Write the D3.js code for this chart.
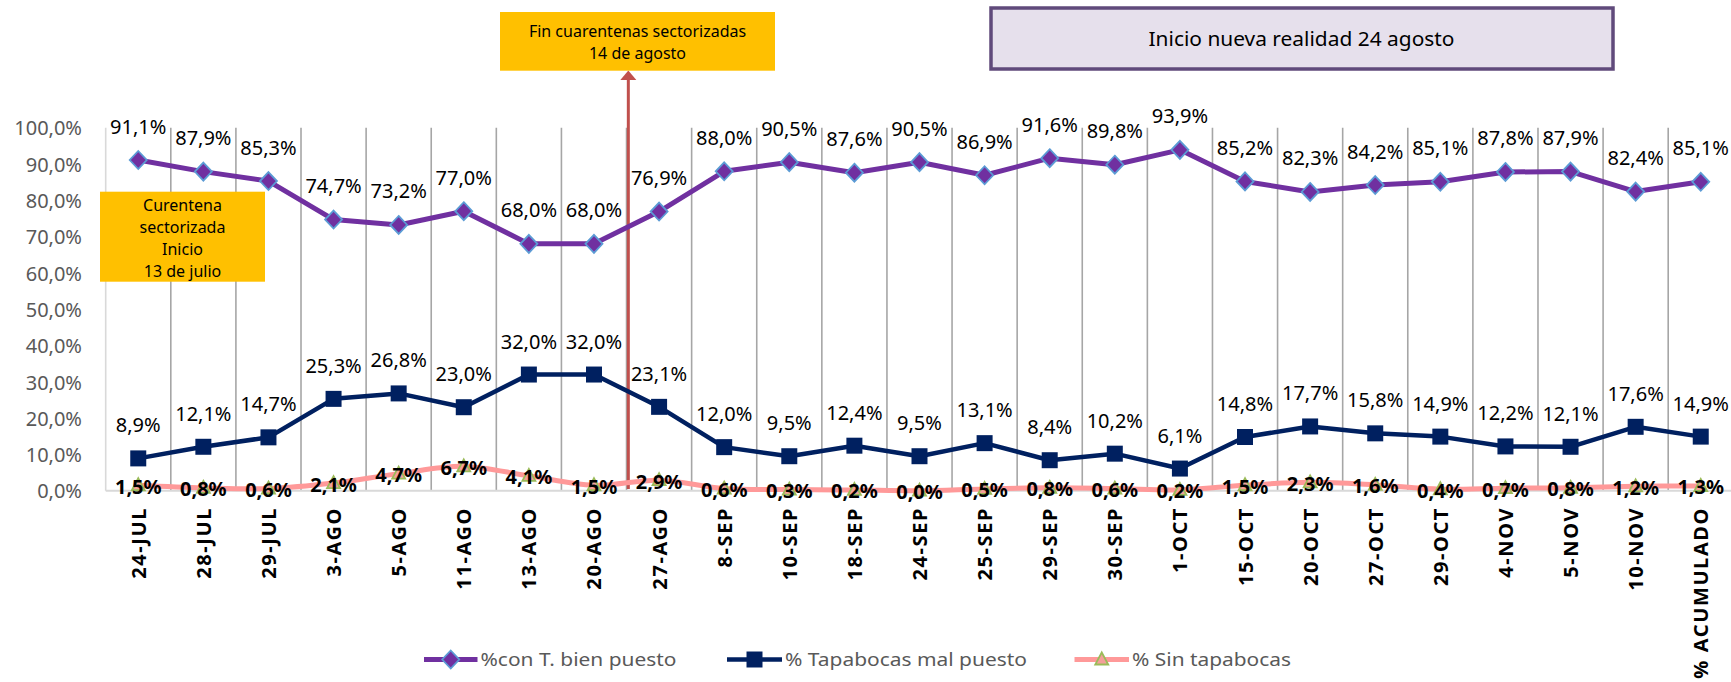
<!DOCTYPE html>
<html>
<head>
<meta charset="utf-8">
<script src="https://cdn.jsdelivr.net/npm/d3@7"></script>
<style>
  html, body { margin: 0; padding: 0; background: #ffffff; }
  svg { display: block; font-family: "Noto Sans", "Open Sans", sans-serif; }
</style>
</head>
<body>
<svg id="chart" width="1731" height="682"></svg>
<script>
///////// Data
var categories = ["24-JUL", "28-JUL", "29-JUL", "3-AGO", "5-AGO", "11-AGO", "13-AGO", "20-AGO", "27-AGO",
                  "8-SEP", "10-SEP", "18-SEP", "24-SEP", "25-SEP", "29-SEP", "30-SEP", "1-OCT", "15-OCT",
                  "20-OCT", "27-OCT", "29-OCT", "4-NOV", "5-NOV", "10-NOV", "% ACUMULADO"]

var bienPuesto = [91.1, 87.9, 85.3, 74.7, 73.2, 77.0, 68.0, 68.0, 76.9, 88.0, 90.5, 87.6, 90.5,
                  86.9, 91.6, 89.8, 93.9, 85.2, 82.3, 84.2, 85.1, 87.8, 87.9, 82.4, 85.1]
var malPuesto  = [8.9, 12.1, 14.7, 25.3, 26.8, 23.0, 32.0, 32.0, 23.1, 12.0, 9.5, 12.4, 9.5,
                  13.1, 8.4, 10.2, 6.1, 14.8, 17.7, 15.8, 14.9, 12.2, 12.1, 17.6, 14.9]
var sinTapabocas = [1.5, 0.8, 0.6, 2.1, 4.7, 6.7, 4.1, 1.5, 2.9, 0.6, 0.3, 0.2, 0.0,
                    0.5, 0.8, 0.6, 0.2, 1.5, 2.3, 1.6, 0.4, 0.7, 0.8, 1.2, 1.3]

var yTicks = [0, 10, 20, 30, 40, 50, 60, 70, 80, 90, 100]
var seriesNames = ["%con T. bien puesto", "% Tapabocas mal puesto", "% Sin tapabocas"]

var svg = d3.select("#chart")

var plotLeft = 105.7, plotRight = 1733.3, plotTop = 127.7, plotBottom = 490.7

var xScale = d3.scaleBand().domain(categories).range([plotLeft, plotRight]).padding(0)
var yScale = d3.scaleLinear().domain([0, 100]).range([plotBottom, plotTop])
function cx(d) { return xScale(d) + xScale.bandwidth() / 2 }

function pct(v) { return v.toFixed(1).replace(".", ",") + "%" }

///////// vertical gridlines at category boundaries
var bounds = categories.map(function(c) { return xScale(c) }).concat([plotRight])
svg.append("g").selectAll("line")
   .data(bounds)
   .enter().append("line")
   .attr("x1", function(d) { return d }).attr("x2", function(d) { return d })
   .attr("y1", plotTop).attr("y2", plotBottom)
   .attr("stroke", function(d, i) { return i == 0 ? "#d9d9d9" : "#a6a6a6" })
   .attr("stroke-width", 1.6)

// baseline
svg.append("line")
   .attr("x1", plotLeft).attr("x2", plotRight)
   .attr("y1", plotBottom).attr("y2", plotBottom)
   .attr("stroke", "#d9d9d9").attr("stroke-width", 2)

///////// y axis labels
var yAxis = d3.axisLeft(yScale).tickValues(yTicks).tickSize(0).tickPadding(0)
              .tickFormat(function(d) { return pct(d) })
var gy = svg.append("g").attr("transform", "translate(82,0)").call(yAxis)
gy.select(".domain").remove()
gy.selectAll("text")
  .attr("fill", "#595959")
  .style("font-family", "'Noto Sans', sans-serif")
  .style("font-size", "20px")
  .attr("dy", "0.36em")

///////// x axis labels (rotated, bold, spaced)
svg.append("g").selectAll("text")
   .data(categories)
   .enter().append("text")
   .attr("transform", function(d) { return "translate(" + (cx(d) + 7.5) + ",507) rotate(-90)" })
   .attr("text-anchor", "end")
   .style("font-size", "20px")
   .style("font-weight", "bold")
   .style("letter-spacing", "1.6px")
   .attr("fill", "#000000")
   .text(function(d) { return d })

///////// arrow "Fin cuarentenas"
var arrowX = xScale("27-AGO") + 1.8
svg.append("line")
   .attr("x1", arrowX).attr("x2", arrowX)
   .attr("y1", 79).attr("y2", 489)
   .attr("stroke", "#c0504d").attr("stroke-width", 3)
svg.append("path")
   .attr("d", "M" + (arrowX - 8) + ",80 L" + (arrowX + 8) + ",80 L" + arrowX + ",70.5 Z")
   .attr("fill", "#c0504d")

///////// lines
var line = d3.line()
var smooth = d3.line().curve(d3.curveCatmullRom.alpha(0.5))

function pts(values) { return values.map(function(v, i) { return [cx(categories[i]), yScale(v)] }) }

svg.append("path").attr("d", smooth(pts(sinTapabocas)))
   .attr("fill", "none").attr("stroke", "#ff9999").attr("stroke-width", 5).attr("stroke-linejoin", "round")
svg.append("path").attr("d", line(pts(malPuesto)))
   .attr("fill", "none").attr("stroke", "#002060").attr("stroke-width", 4.5).attr("stroke-linejoin", "round")
svg.append("path").attr("d", line(pts(bienPuesto)))
   .attr("fill", "none").attr("stroke", "#7030a0").attr("stroke-width", 5).attr("stroke-linejoin", "round")

///////// markers
function diamond(x, y) { return "M" + x + "," + (y - 9) + " L" + (x + 8.5) + "," + y + " L" + x + "," + (y + 9) + " L" + (x - 8.5) + "," + y + " Z" }
function square(x, y) { return "M" + (x - 8) + "," + (y - 8) + " h16 v16 h-16 Z" }
function triangle(x, y) { return "M" + x + "," + (y - 7) + " L" + (x + 6.5) + "," + (y + 5) + " L" + (x - 6.5) + "," + (y + 5) + " Z" }

svg.append("g").selectAll("path").data(sinTapabocas).enter().append("path")
   .attr("d", function(v, i) { return triangle(cx(categories[i]), yScale(v)) })
   .attr("fill", "#f4a09a").attr("stroke", "#9bbb59").attr("stroke-width", 1.8)
svg.append("g").selectAll("path").data(malPuesto).enter().append("path")
   .attr("d", function(v, i) { return square(cx(categories[i]), yScale(v)) })
   .attr("fill", "#002060")
svg.append("g").selectAll("path").data(bienPuesto).enter().append("path")
   .attr("d", function(v, i) { return diamond(cx(categories[i]), yScale(v)) })
   .attr("fill", "#7030a0").attr("stroke", "#5b9bd5").attr("stroke-width", 1.8)

///////// data labels
svg.append("g").selectAll("text").data(bienPuesto).enter().append("text")
   .attr("x", function(v, i) { return cx(categories[i]) })
   .attr("y", function(v) { return yScale(v) - 26.5 })
   .attr("text-anchor", "middle").style("font-size", "20px").attr("fill", "#000")
   .text(pct)
svg.append("g").selectAll("text").data(malPuesto).enter().append("text")
   .attr("x", function(v, i) { return cx(categories[i]) })
   .attr("y", function(v) { return yScale(v) - 26 })
   .attr("text-anchor", "middle").style("font-size", "20px").attr("fill", "#000")
   .text(pct)
svg.append("g").selectAll("text").data(sinTapabocas).enter().append("text")
   .attr("x", function(v, i) { return cx(categories[i]) })
   .attr("y", function(v) { return yScale(v) + 8.5 })
   .attr("text-anchor", "middle").style("font-size", "20px").style("font-weight", "bold").attr("fill", "#000")
   .text(pct)

///////// annotation boxes
svg.append("rect").attr("x", 100).attr("y", 191.7).attr("width", 165).attr("height", 90).attr("fill", "#ffc000")
svg.append("g").selectAll("text")
   .data(["Curentena", "sectorizada", "Inicio", "13 de julio"])
   .enter().append("text")
   .attr("x", 182.5).attr("y", function(d, i) { return 205.5 + i * 22 })
   .attr("dy", "0.36em").attr("text-anchor", "middle")
   .style("font-size", "16px").attr("fill", "#000")
   .text(function(d) { return d })

svg.append("rect").attr("x", 500).attr("y", 12).attr("width", 275).attr("height", 58.7).attr("fill", "#ffc000")
svg.append("g").selectAll("text")
   .data(["Fin cuarentenas sectorizadas", "14 de agosto"])
   .enter().append("text")
   .attr("x", 637.5).attr("y", function(d, i) { return 31.7 + i * 21.6 })
   .attr("dy", "0.36em").attr("text-anchor", "middle")
   .style("font-size", "16px").attr("fill", "#000")
   .text(function(d) { return d })

svg.append("rect").attr("x", 991).attr("y", 8).attr("width", 622).attr("height", 61)
   .attr("fill", "#e6e0ec").attr("stroke", "#604a7b").attr("stroke-width", 3.5)
svg.append("text").attr("x", 1301.5).attr("y", 39).attr("dy", "0.36em")
   .attr("text-anchor", "middle").style("font-size", "19px").attr("fill", "#000")
   .attr("textLength", 306).attr("lengthAdjust", "spacingAndGlyphs")
   .text("Inicio nueva realidad  24 agosto")

///////// legend
var legendItems = [
  { name: seriesNames[0], x0: 424, x1: 477.5, color: "#7030a0", width: 5, marker: "diamond", tl: 196 },
  { name: seriesNames[1], x0: 727, x1: 782, color: "#002060", width: 4.5, marker: "square", tl: 242 },
  { name: seriesNames[2], x0: 1074.5, x1: 1129, color: "#ff9999", width: 5, marker: "triangle", tl: 159 }
]
var ly = 659.5
var lg = svg.append("g").selectAll("g").data(legendItems).enter().append("g")
lg.append("line")
  .attr("x1", function(d) { return d.x0 }).attr("x2", function(d) { return d.x1 })
  .attr("y1", ly).attr("y2", ly)
  .attr("stroke", function(d) { return d.color }).attr("stroke-width", function(d) { return d.width })
lg.append("path")
  .attr("d", function(d) {
      var mx = (d.x0 + d.x1) / 2
      if (d.marker == "diamond") return diamond(mx, ly)
      if (d.marker == "square") return square(mx, ly)
      return triangle(mx, ly)
  })
  .attr("fill", function(d) { return d.marker == "triangle" ? "#f4a09a" : d.color })
  .attr("stroke", function(d) { return d.marker == "diamond" ? "#5b9bd5" : (d.marker == "triangle" ? "#9bbb59" : "none") })
  .attr("stroke-width", 1.8)
lg.append("text")
  .attr("x", function(d) { return d.x1 + 3 }).attr("y", ly).attr("dy", "0.36em")
  .style("font-size", "18px").attr("fill", "#595959")
  .attr("textLength", function(d) { return d.tl }).attr("lengthAdjust", "spacingAndGlyphs")
  .text(function(d) { return d.name })
</script>
</body>
</html>
